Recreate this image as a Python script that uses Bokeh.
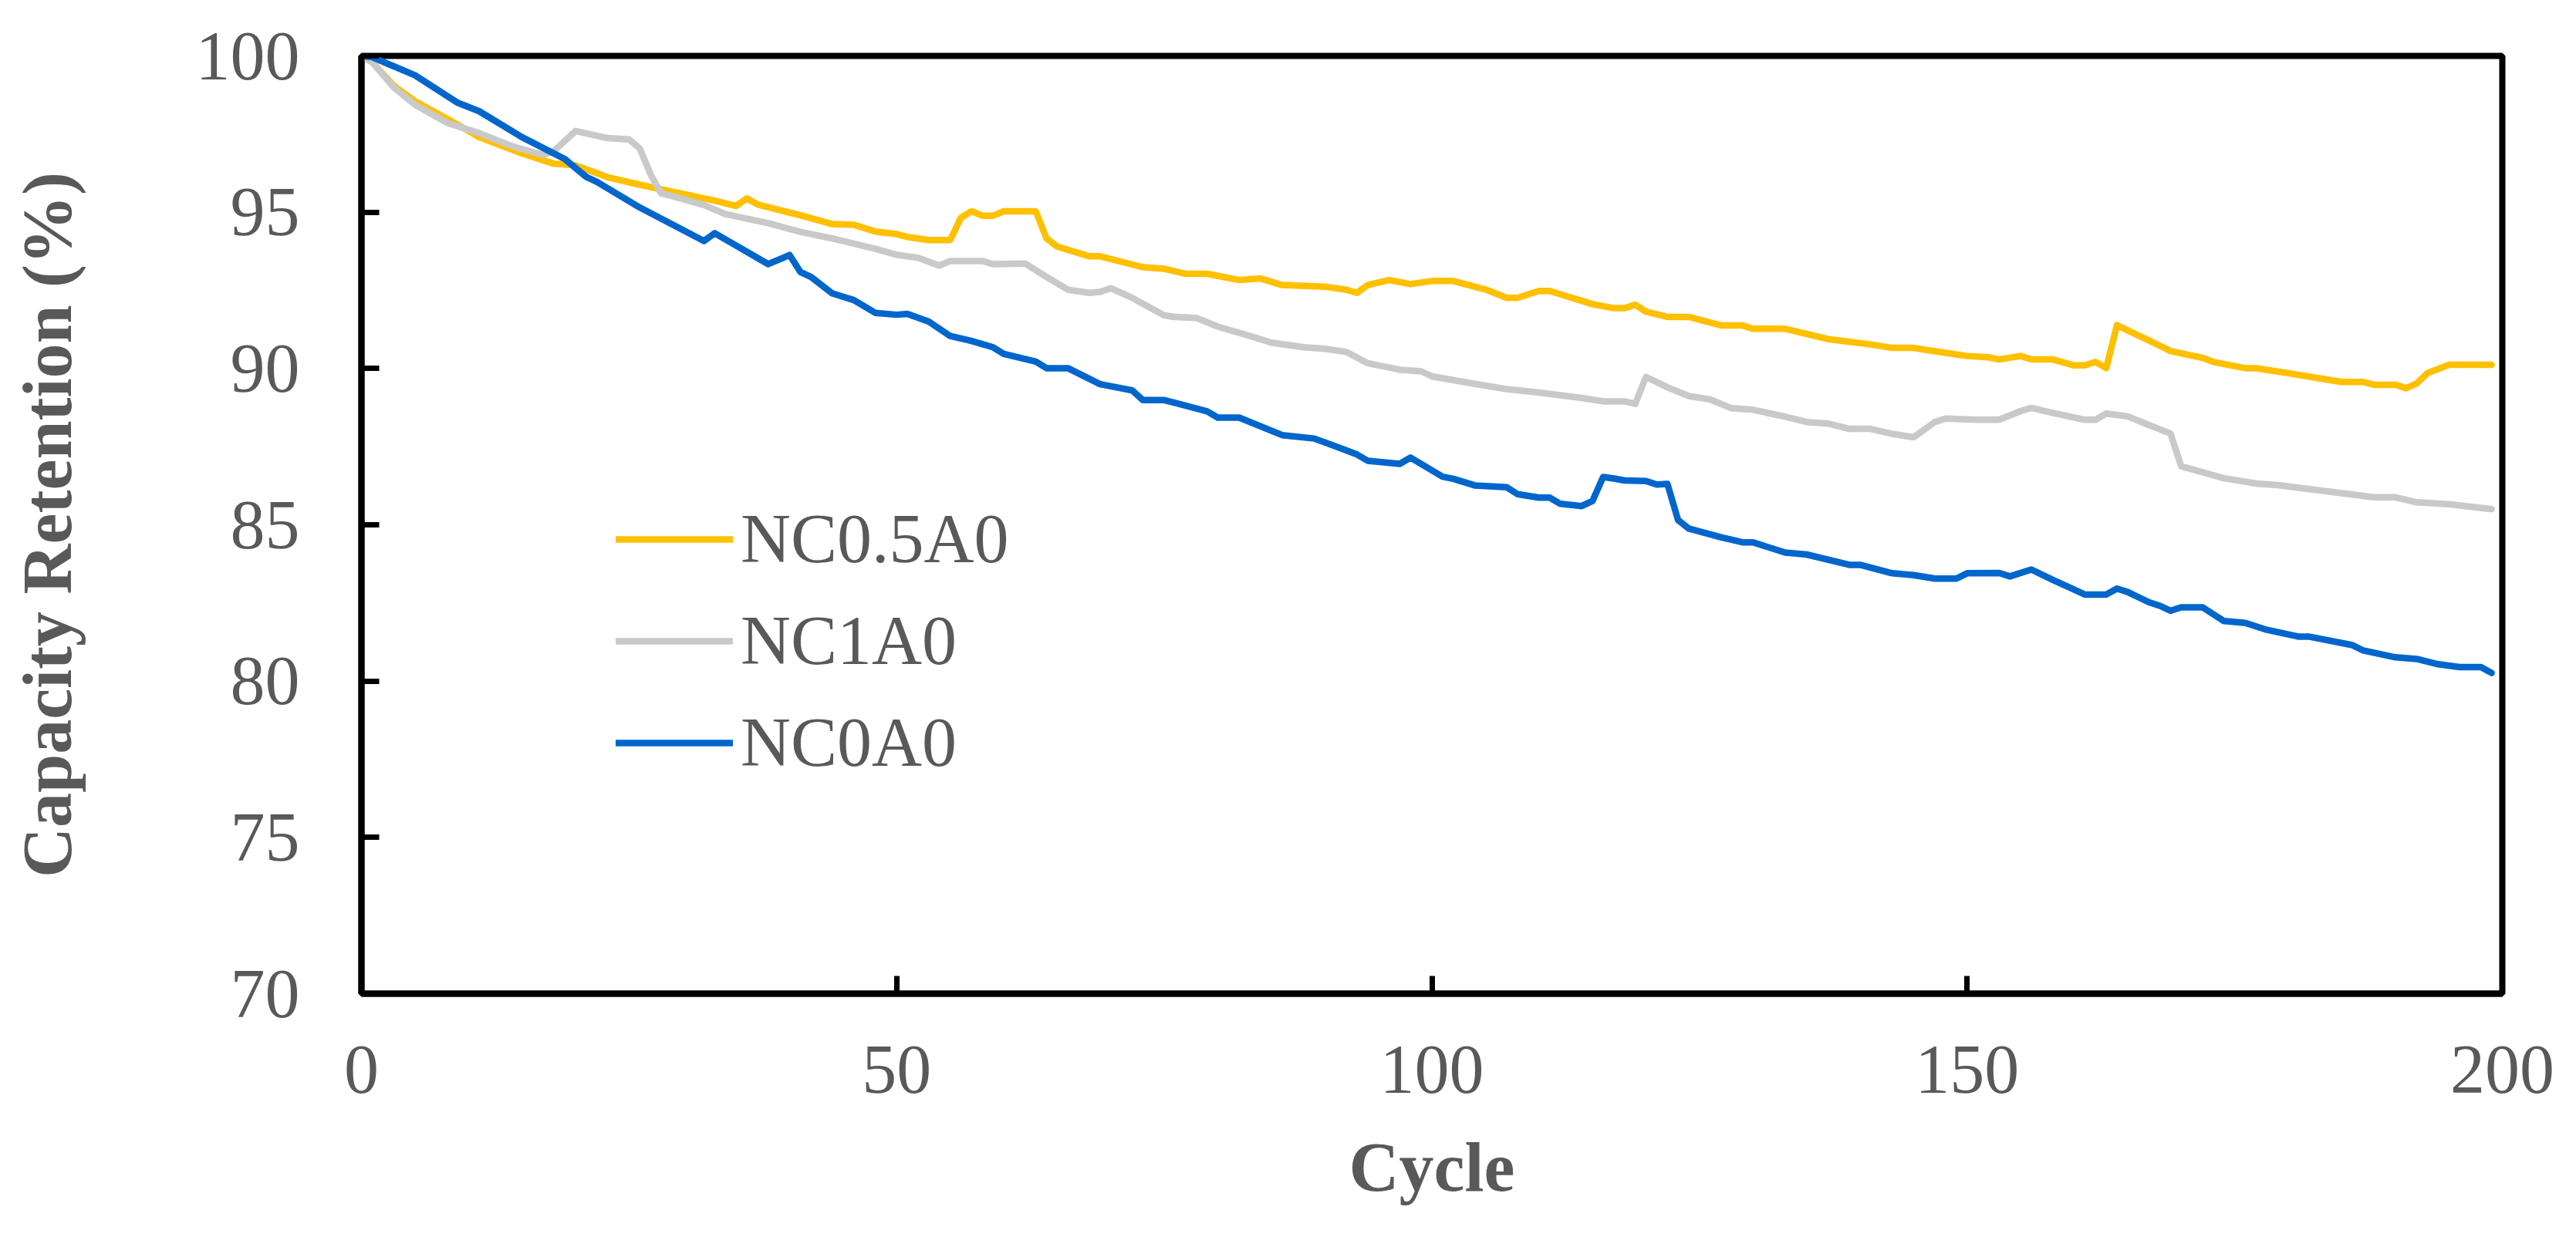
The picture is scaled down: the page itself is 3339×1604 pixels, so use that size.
from bokeh.plotting import figure
from bokeh.models import Range1d, FixedTicker, Legend, LegendItem
from bokeh.embed import file_html
from bokeh.resources import INLINE

# ---- data ----
series_names = ["NC0.5A0", "NC1A0", "NC0A0"]
series_colors = ["#FFC000", "#C9C9C9", "#0066CC"]

nc05_cycle = [0, 1, 3, 5, 9, 11, 15, 18, 20, 23, 26, 29, 33, 35, 36, 37, 41, 44, 46, 48, 50, 51, 53, 55, 56, 57,
              58, 59, 60, 63, 64, 65, 68, 69, 73, 75, 77, 79, 82, 84, 86, 90, 92, 93, 94, 96, 98, 100, 102, 105,
              107, 108, 110, 111, 115, 117, 118, 119, 120, 122, 124, 127, 129, 130, 133, 137, 141, 143, 145, 147,
              150, 152, 153, 155, 156, 158, 160, 161, 162, 163, 164, 165, 168, 169, 172, 173, 176, 177, 180, 183,
              185, 187, 188, 190, 191, 192, 193, 195, 197, 199]
nc05_ret = [100, 99.8, 99.05, 98.55, 97.8, 97.4, 96.88, 96.55, 96.5, 96.12, 95.88, 95.66, 95.37, 95.2, 95.44,
            95.25, 94.9, 94.62, 94.6, 94.38, 94.3, 94.21, 94.11, 94.11, 94.82, 95.03, 94.89, 94.89, 95.03, 95.03,
            94.16, 93.9, 93.59, 93.59, 93.24, 93.19, 93.03, 93.03, 92.83, 92.88, 92.67, 92.62, 92.52, 92.42, 92.67,
            92.83, 92.7, 92.8, 92.8, 92.53, 92.26, 92.26, 92.48, 92.48, 92.06, 91.93, 91.93, 92.04, 91.82, 91.65,
            91.65, 91.38, 91.38, 91.27, 91.27, 90.94, 90.77, 90.66, 90.66, 90.55, 90.4, 90.36, 90.29, 90.4, 90.29,
            90.29, 90.1, 90.1, 90.21, 90.01, 91.39, 91.22, 90.73, 90.56, 90.34, 90.21, 90.01, 90.01, 89.85, 89.68,
            89.57, 89.57, 89.48, 89.48, 89.37, 89.52, 89.85, 90.12, 90.12, 90.12]

nc1_cycle = [0, 1, 3, 5, 8, 11, 14, 17, 18, 20, 23, 25, 26, 27, 28, 29, 32, 34, 38, 41, 44, 48, 50, 52, 54, 55,
             58, 59, 62, 64, 66, 68, 69, 70, 72, 75, 76, 78, 80, 83, 85, 88, 90, 92, 94, 97, 99, 100, 104, 107,
             110, 114, 116, 118, 119, 120, 122, 124, 126, 128, 130, 133, 135, 137, 139, 141, 143, 145, 147, 148,
             151, 153, 155, 156, 158, 161, 162, 163, 165, 167, 169, 170, 174, 177, 179, 183, 188, 190, 192, 195,
             199]
nc1_ret = [100, 99.8, 99.0, 98.44, 97.86, 97.53, 97.12, 96.83, 96.96, 97.6, 97.37, 97.33, 97.04, 96.22, 95.6,
           95.52, 95.23, 94.94, 94.65, 94.37, 94.16, 93.83, 93.64, 93.54, 93.29, 93.44, 93.44, 93.34, 93.36, 92.93,
           92.52, 92.42, 92.45, 92.57, 92.26, 91.7, 91.65, 91.62, 91.34, 91.04, 90.83, 90.68, 90.63, 90.53, 90.17,
           89.96, 89.91, 89.75, 89.51, 89.34, 89.23, 89.06, 88.95, 88.95, 88.87, 89.73, 89.4, 89.12, 89.01, 88.73,
           88.68, 88.46, 88.29, 88.24, 88.07, 88.07, 87.91, 87.8, 88.29, 88.4, 88.36, 88.36, 88.64, 88.74, 88.58,
           88.36, 88.36, 88.56, 88.47, 88.19, 87.92, 86.87, 86.49, 86.32, 86.27, 86.1, 85.88, 85.88, 85.72, 85.66,
           85.5]

nc0_cycle = [0, 1, 5, 9, 11, 15, 19, 21, 22, 26, 32, 33, 38, 40, 41, 42, 44, 46, 48, 50, 51, 53, 55, 57, 59, 60,
             63, 64, 66, 69, 72, 73, 75, 79, 80, 82, 86, 89, 91, 93, 94, 97, 98, 101, 102, 104, 107, 108, 110, 111,
             112, 114, 115, 116, 117, 118, 120, 121, 122, 123, 124, 127, 129, 130, 133, 135, 139, 140, 143, 145,
             147, 149, 150, 153, 154, 156, 158, 161, 163, 164, 165, 167, 168, 169, 170, 172, 174, 176, 178, 181,
             182, 186, 187, 190, 192, 194, 196, 198, 199]
nc0_ret = [100, 99.96, 99.38, 98.5, 98.23, 97.4, 96.7, 96.13, 95.97, 95.15, 94.08, 94.33, 93.34, 93.63, 93.09,
           92.93, 92.4, 92.19, 91.78, 91.72, 91.75, 91.5, 91.04, 90.88, 90.68, 90.47, 90.22, 90.01, 90.01, 89.5,
           89.3, 88.99, 88.99, 88.63, 88.43, 88.43, 87.87, 87.76, 87.51, 87.25, 87.05, 86.95, 87.15, 86.54, 86.47,
           86.26, 86.2, 85.98, 85.87, 85.87, 85.67, 85.6, 85.76, 86.53, 86.48, 86.42, 86.4, 86.29, 86.31, 85.15,
           84.88, 84.6, 84.44, 84.44, 84.11, 84.05, 83.72, 83.72, 83.45, 83.39, 83.28, 83.28, 83.45, 83.46, 83.35,
           83.57, 83.24, 82.77, 82.77, 82.96, 82.85, 82.52, 82.41, 82.25, 82.36, 82.36, 81.92, 81.86, 81.64, 81.42,
           81.42, 81.15, 80.98, 80.76, 80.71, 80.54, 80.45, 80.45, 80.26]

x_ticks = [0, 50, 100, 150, 200]
y_ticks = [70, 75, 80, 85, 90, 95, 100]
x_title = "Cycle"
y_title = "Capacity Retention (%)"

# ---- figure ----
FONT = "Liberation Serif"
TXT = "#595959"

p = figure(width=3323, height=1588, output_backend="svg", toolbar_location=None,
           x_range=Range1d(0, 200), y_range=Range1d(70, 100),
           frame_width=2775, frame_height=1216,
           min_border_left=468, min_border_right=80, min_border_top=72, min_border_bottom=300)
p.background_fill_color = "white"
p.border_fill_color = "white"
p.grid.visible = False
p.outline_line_color = "black"
p.outline_line_width = 8

for ax in (p.xaxis[0], p.yaxis[0]):
    ax.axis_line_color = "black"
    ax.axis_line_width = 8
    ax.major_tick_line_color = "black"
    ax.major_tick_line_width = 7
    ax.major_tick_in = 23
    ax.major_tick_out = 0
    ax.minor_tick_line_color = None
    ax.major_label_text_font = FONT
    ax.major_label_text_font_size = "90px"
    ax.major_label_text_color = TXT
    ax.axis_label_text_font = FONT
    ax.axis_label_text_font_style = "bold"
    ax.axis_label_text_font_size = "90px"
    ax.axis_label_text_color = TXT

p.xaxis[0].ticker = FixedTicker(ticks=x_ticks)
p.yaxis[0].ticker = FixedTicker(ticks=y_ticks)
p.xaxis[0].axis_label = x_title
p.yaxis[0].axis_label = y_title
p.xaxis[0].major_label_standoff = 68
p.yaxis[0].major_label_standoff = 80
p.xaxis[0].axis_label_standoff = 44
p.yaxis[0].axis_label_standoff = 140

renderers = []
for xs, ys, col in [(nc05_cycle, nc05_ret, series_colors[0]),
                    (nc1_cycle, nc1_ret, series_colors[1]),
                    (nc0_cycle, nc0_ret, series_colors[2])]:
    r = p.line(xs, ys, line_color=col, line_width=8.5, line_join="round", line_cap="round")
    renderers.append(r)

legend = Legend(items=[LegendItem(label=n, renderers=[r]) for n, r in zip(series_names, renderers)],
                location=(330, 274), orientation="vertical",
                glyph_width=152, glyph_height=90, label_height=90, spacing=29,
                label_standoff=10, padding=0, margin=0,
                border_line_color=None, background_fill_alpha=0,
                label_text_font=FONT, label_text_font_size="90px", label_text_color=TXT)
p.add_layout(legend, "center")

open("out.html", "w").write(file_html(p, INLINE))
